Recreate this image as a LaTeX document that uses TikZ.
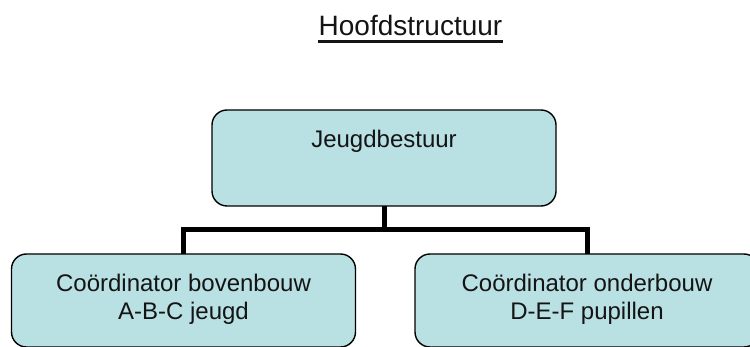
\documentclass[tikz,border=0pt]{standalone}
\usepackage{fontspec}
\setmainfont{Liberation Sans}
\definecolor{boxfill}{RGB}{185,224,227}
\definecolor{txt}{RGB}{20,20,20}
\begin{document}
\begin{tikzpicture}[x=1pt,y=-1pt,
  orgbox/.style={draw=black, line width=1.4pt, fill=boxfill, rounded corners=15pt,
    minimum width=344pt, minimum height=93pt, inner sep=0pt, outer sep=0pt},
  boxtext/.style={text=txt, font=\fontsize{24}{28}\selectfont, align=center, inner sep=0pt},
  link/.style={line width=5pt, black}]
\useasboundingbox (0,0) rectangle (750,347);
\clip (0,0) rectangle (750,347);
\fill[white] (0,0) rectangle (750,347);
\node[text=txt, font=\fontsize{28}{32}\selectfont, anchor=base, inner sep=0pt] (title) at (410.5,36) {Hoofdstructuur};
\draw[line width=2.6pt, txt] ([yshift=-5pt]title.south west) -- ([yshift=-5pt]title.south east);
\node[orgbox, minimum height=96pt] (top) at (384,158) {};
\node[boxtext, anchor=base] (toptext) at (384,147.5) {Jeugdbestuur};
\node[orgbox] (left) at (183.5,300.5) {};
\node[boxtext] (lefttext) at (183.5,299) {Coördinator bovenbouw\\A-B-C jeugd};
\node[orgbox] (right) at (587,300.5) {};
\node[boxtext] (righttext) at (587,299) {Coördinator onderbouw\\D-E-F pupillen};
\coordinate (bus) at (385,230);
\draw[link] (top.south) -- (top.south |- bus);
\draw[link] (left.north) -- (left.north |- bus) -- (right.north |- bus) -- (right.north);
\end{tikzpicture}
\end{document}
